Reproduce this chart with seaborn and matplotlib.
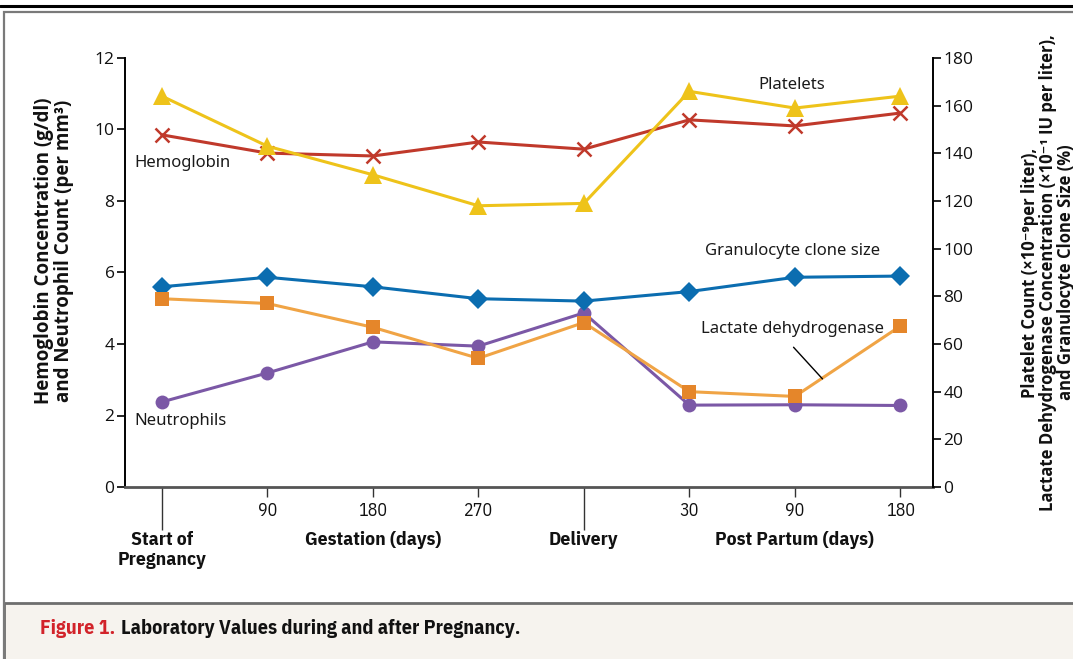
import numpy as np
import pandas as pd
import seaborn as sns
import matplotlib
matplotlib.use("Agg")
import matplotlib.pyplot as plt
import matplotlib.transforms as mtrans
from matplotlib.patches import Rectangle
from matplotlib.lines import Line2D

# ---------------- data ----------------
time_points = ["Start of Pregnancy", "Gestation 90", "Gestation 180", "Gestation 270",
               "Delivery", "Post Partum 30", "Post Partum 90", "Post Partum 180"]
tick_labels = ["", "90", "180", "270", "", "30", "90", "180"]
hemoglobin = [9.85, 9.34, 9.26, 9.65, 9.45, 10.27, 10.10, 10.46]
neutrophils = [2.38, 3.19, 4.06, 3.94, 4.87, 2.29, 2.30, 2.28]
platelets = [164, 143, 131, 118, 119, 166, 159, 164]
granulocyte_clone = [84, 88, 84, 79, 78, 82, 88, 88.5]
ldh = [79, 77, 67, 54, 69, 40, 38, 67.5]
group_labels = ["Start of\nPregnancy", "Gestation (days)", "Delivery", "Post Partum (days)"]
group_positions = [0, 2, 4, 6]

sns.set_theme(style="white")
plt.rcParams["font.family"] = ["Open Sans", "DejaVu Sans"]

COND_BOLD = ["IBM Plex Sans Condensed", "DejaVu Sans"]
COND = ["IBM Plex Sans Condensed", "DejaVu Sans"]
LABEL = ["Open Sans", "DejaVu Sans"]
ANN = ["Noto Sans", "DejaVu Sans"]

fig = plt.figure(figsize=(10.73, 6.59), dpi=100)
ax = fig.add_axes([125 / 1073, 1 - 487 / 659, 808 / 1073, 429 / 659])
ax2 = ax.twinx()

pos = np.arange(len(time_points))
df = pd.DataFrame({"pos": pos, "hemoglobin": hemoglobin, "neutrophils": neutrophils,
                   "platelets": platelets, "granulocyte": granulocyte_clone, "ldh": ldh})

lw = 2.2
sns.lineplot(data=df, x="pos", y="hemoglobin", ax=ax, color="#C0392B", marker="x",
             markersize=10, markeredgewidth=1.8, markeredgecolor="#C0392B", linewidth=lw)
sns.lineplot(data=df, x="pos", y="neutrophils", ax=ax, color="#7B58A6", marker="o",
             markersize=10, markeredgewidth=0, markeredgecolor="#7B58A6", linewidth=lw)
sns.lineplot(data=df, x="pos", y="platelets", ax=ax2, color="#EEC31A", marker="^",
             markersize=13, markeredgewidth=0, markeredgecolor="#EEC31A", linewidth=lw)
sns.lineplot(data=df, x="pos", y="granulocyte", ax=ax2, color="#0B6DB0", marker="D",
             markersize=10, markeredgewidth=0, markeredgecolor="#0B6DB0", linewidth=lw)
sns.lineplot(data=df, x="pos", y="ldh", ax=ax2, color="#F0A445", marker="s",
             markersize=10, markeredgewidth=0, markerfacecolor="#E5862A",
             markeredgecolor="#E5862A", linewidth=lw)

ax.set_ylim(0, 12)
ax2.set_ylim(0, 180)
ax.set_xlim(-0.35, 7.31)
ax.set_yticks(np.arange(0, 13, 2))
ax2.set_yticks(np.arange(0, 181, 20))

ax.set_xticks([1, 2, 3, 5, 6, 7])
ax.set_xticklabels([tick_labels[i] for i in [1, 2, 3, 5, 6, 7]], family=COND, fontsize=13)
ax.set_xticks([0, 4], minor=True)
ax.tick_params(axis="x", which="major", direction="out", length=7, width=1.0,
               color="#333333", labelsize=13, pad=3.5, bottom=True, labelcolor="#111111")
ax.tick_params(axis="x", which="minor", direction="out", length=31, width=1.0,
               color="#333333", bottom=True)
ax.tick_params(axis="y", direction="out", length=6, width=1.2, color="black",
               labelsize=12.5, pad=1.5, left=True, labelcolor="#111111")
ax2.tick_params(axis="y", direction="out", length=6, width=1.2, color="black",
                labelsize=12.5, pad=1.5, right=True, labelcolor="#111111")

for a in (ax, ax2):
    a.set_xlabel("")
    a.spines["top"].set_visible(False)
    a.grid(False)
ax.spines["right"].set_visible(False)
ax.spines["left"].set_color("black")
ax.spines["left"].set_linewidth(1.4)
ax2.spines["left"].set_visible(False)
ax2.spines["bottom"].set_visible(False)
ax2.spines["right"].set_color("black")
ax2.spines["right"].set_linewidth(1.4)
ax.spines["bottom"].set_color("#555555")
ax.spines["bottom"].set_linewidth(2.0)

ax.set_ylabel("Hemoglobin Concentration (g/dl)\nand Neutrophil Count (per mm³)",
              fontsize=13.5, fontweight="bold", family=LABEL, linespacing=1.0,
              color="#111111")
ax.yaxis.label.set_va("center")
ax.yaxis.label.set_ha("center")
ax.yaxis.set_label_coords((54.5 - 125) / 808, 0.55)

ax2.set_ylabel("Platelet Count (×10⁻⁹per liter),\n"
               "Lactate Dehydrogenase Concentration (×10⁻¹ IU per liter),\n"
               "and Granulocyte Clone Size (%)",
               fontsize=12, fontweight="bold", family=LABEL, rotation=90,
               linespacing=1.0, color="#111111")
ax2.yaxis.label.set_va("center")
ax2.yaxis.label.set_ha("center")
ax2.yaxis.set_label_coords((1048 - 125) / 808, 0.5)

# group labels under the axis
trans = mtrans.blended_transform_factory(ax.transData, ax.transAxes)
for p, t in zip(group_positions, group_labels):
    ax.text(p, -0.103, t, transform=trans, ha="center", va="top", fontsize=14,
            fontweight="bold", family=COND_BOLD, linespacing=1.1, color="#111111")

# series annotations
ax.text(-0.26, 9.05, "Hemoglobin", fontsize=12, family=ANN, va="center", ha="left", color="#1a1a1a")
ax.text(-0.26, 1.85, "Neutrophils", fontsize=12, family=ANN, va="center", ha="left", color="#1a1a1a")
ax2.text(5.97, 168.5, "Platelets", fontsize=12, family=ANN, va="center", ha="center", color="#1a1a1a")
ax2.text(5.98, 99, "Granulocyte clone size", fontsize=12, family=ANN, va="center", ha="center", color="#1a1a1a")
ax2.text(5.98, 66.5, "Lactate dehydrogenase", fontsize=12, family=ANN, va="center", ha="center", color="#1a1a1a")
ax2.annotate("", xy=(6.28, 44.5), xytext=(5.97, 59.5),
             arrowprops=dict(arrowstyle="-", color="black", lw=1.0))

# frame decorations
fig.add_artist(Line2D([0, 1], [1 - 5.5 / 659, 1 - 5.5 / 659], transform=fig.transFigure,
                      color="black", lw=2.2))
fig.add_artist(Rectangle((4 / 1073, -0.01), 1.1, 1 - 12 / 659 + 0.01, transform=fig.transFigure,
                         facecolor="none", edgecolor="#7a7a7a", lw=1.6))
fig.add_artist(Rectangle((4 / 1073, -0.01), 1.1, (659 - 603) / 659 + 0.01,
                         transform=fig.transFigure, facecolor="#F6F3EE",
                         edgecolor="#6e6e6e", lw=2.0, zorder=0))
cap1 = fig.text(40 / 1073, 1 - 629 / 659, "Figure 1.", color="#D2232A", fontsize=14.5,
                fontweight="bold", family=COND_BOLD, va="center", ha="left")
plt.annotate("Laboratory Values during and after Pregnancy.", xy=(1, 0.5),
             xycoords=cap1, xytext=(4, 0), textcoords="offset points",
             color="#111111", fontsize=14.5, fontweight="bold", family=COND_BOLD,
             va="center", ha="left", annotation_clip=False)

fig.savefig("out.png", dpi=100)
